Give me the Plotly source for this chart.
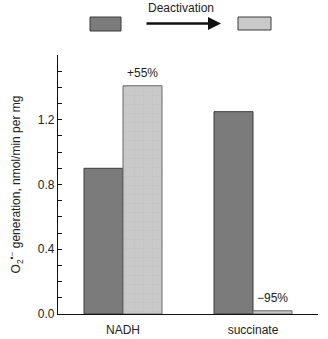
import plotly.graph_objects as go

categories = ["NADH", "succinate"]
active_values = [0.90, 1.25]
deactivated_values = [1.41, 0.02]
change_labels = ["+55%", "\u221295%"]
y_ticks = [0.0, 0.4, 0.8, 1.2]

FONT = "Liberation Sans, Arial, sans-serif"
DARK_FILL = "#7b7b7b"
DARK_LINE = "#3c3c3c"
LIGHT_FILL = "#c9c9c9"
LIGHT_LINE = "#6a6a6a"

fig = go.Figure()
fig.add_trace(go.Bar(
    x=categories, y=active_values, name="active",
    marker=dict(color=DARK_FILL, line=dict(color=DARK_LINE, width=1)),
))
fig.add_trace(go.Bar(
    x=categories, y=deactivated_values, name="deactivated",
    marker=dict(color=LIGHT_FILL, line=dict(color=LIGHT_LINE, width=1),
                pattern=dict(shape="+", fgcolor="#bcbcbc", bgcolor=LIGHT_FILL,
                             size=9, solidity=0.15)),
))

for cat, val, lab in zip(categories, deactivated_values, change_labels):
    fig.add_annotation(x=cat, y=val, text=lab, showarrow=False,
                       xshift=19.5, yshift=13, font=dict(size=12, color="#222"))

# legend drawing at top
fig.add_shape(type="rect", xref="paper", yref="paper",
              x0=(90-58)/260, x1=(121-58)/260, y0=(314-31)/259, y1=(314-17)/259,
              fillcolor=DARK_FILL, line=dict(color=DARK_LINE, width=1))
fig.add_shape(type="rect", xref="paper", yref="paper",
              x0=(238-58)/260, x1=(271-58)/260, y0=(314-30)/259, y1=(314-17)/259,
              fillcolor=LIGHT_FILL, line=dict(color=DARK_LINE, width=1))
fig.add_annotation(xref="paper", yref="paper",
                   x=(221-58)/260, y=(314-23.5)/259,
                   ax=-76, ay=0, axref="pixel", ayref="pixel",
                   showarrow=True, arrowhead=2, arrowsize=1.0, arrowwidth=2.6,
                   arrowcolor="#111", text="")
fig.add_annotation(xref="paper", yref="paper", x=(181-58)/260, y=(314-8)/259,
                   xanchor="center", yanchor="middle",
                   text="Deactivation", showarrow=False,
                   font=dict(size=12, color="#222"))

fig.update_layout(
    width=328, height=339,
    margin=dict(l=58, r=10, t=55, b=25),
    paper_bgcolor="white", plot_bgcolor="white",
    barmode="group", bargap=0.4, bargroupgap=0,
    showlegend=False,
    font=dict(family=FONT, size=12, color="#222"),
)
fig.update_xaxes(
    range=[-0.5, 1.5], showline=True, linecolor="#111", linewidth=1.2,
    ticks="", showgrid=False, tickfont=dict(size=12), ticklabelstandoff=4,
    automargin=False,
)
fig.update_yaxes(
    range=[0, 1.6], showline=True, linecolor="#111", linewidth=1.2,
    showgrid=False, zeroline=False, automargin=False,
    tickvals=y_ticks, tickformat=".1f", ticks="inside", ticklen=4,
    tickcolor="#111", tickwidth=1,
    minor=dict(dtick=0.1, ticks="inside", ticklen=4, tickcolor="#111", tickwidth=1, showgrid=False),
    tickfont=dict(size=12),
    title=dict(text="O<sub>2</sub><sup>\u2022\u2212</sup> generation, nmol/min per mg",
               font=dict(size=12), standoff=14),
)

fig.write_html("out.html")
